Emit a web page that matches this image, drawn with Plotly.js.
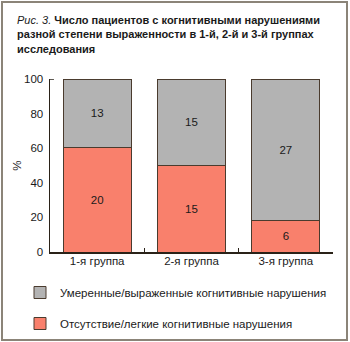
<!DOCTYPE html>
<html><head><meta charset="utf-8">
<script src="https://cdn.plot.ly/plotly-3.0.1.min.js"></script>
<style>
html,body{margin:0;padding:0;background:#fff;}
#wrap{position:relative;width:350px;height:342px;}
#chart{position:absolute;left:0;top:0;width:350px;height:342px;}
#frame{position:absolute;left:1px;top:1px;width:343px;height:336px;border:2px solid #8b8478;pointer-events:none;}
</style></head>
<body><div id="wrap"><div id="chart"></div><div id="frame"></div></div>
<script>
const groups = ["1-я группа", "2-я группа", "3-я группа"];
const absentCounts = [20, 15, 6];
const moderateCounts = [13, 15, 27];
const seriesNames = ["Отсутствие/легкие когнитивные нарушения", "Умеренные/выраженные когнитивные нарушения"];
const yTicks = [0, 20, 40, 60, 80, 100];

const totals = groups.map((g, i) => absentCounts[i] + moderateCounts[i]);
const absentPct = absentCounts.map((v, i) => v / totals[i] * 100);
const moderatePct = moderateCounts.map((v, i) => v / totals[i] * 100);

const font = "Liberation Sans, Arial, sans-serif";
const traces = [
  {type: "bar", x: groups, y: absentPct, name: seriesNames[0], legendgroup: "a", legendrank: 2,
   text: absentCounts.map(String), textposition: "inside", insidetextanchor: "middle",
   textfont: {color: "#1a1a1a", size: 11.5, family: font},
   marker: {color: "#f9806c", line: {color: "#4a3b2e", width: 1}}, hoverinfo: "skip"},
  {type: "bar", x: groups, y: moderatePct, name: seriesNames[1], legendgroup: "b", legendrank: 1,
   text: moderateCounts.map(String), textposition: "inside", insidetextanchor: "middle",
   textfont: {color: "#1a1a1a", size: 11.5, family: font},
   marker: {color: "#b3b3b3", line: {color: "#4a3b2e", width: 1}}, hoverinfo: "skip"}
];

const layout = {
  width: 350, height: 342,
  margin: {l: 50, r: 17, t: 79, b: 90, autoexpand: false},
  paper_bgcolor: "#fff", plot_bgcolor: "#fff",
  barmode: "stack", bargap: 0.28,
  font: {family: font, size: 11.5, color: "#1a1a1a"},
  title: {
    text: "<i>Рис. 3.</i> <b>Число пациентов с когнитивными нарушениями<br>разной степени выраженности в 1-й, 2-й и 3-й группах<br>исследования</b>",
    font: {family: font, size: 11, color: "#1a1a1a"},
    xref: "container", yref: "container", x: 17/350, xanchor: "left", y: 1 - 24/342, yanchor: "top"
  },
  xaxis: {
    showline: true, linecolor: "#2a2218", linewidth: 1.5,
    ticks: "inside", tickson: "boundaries", ticklen: 4, tickcolor: "#2a2218", tickwidth: 1,
    showgrid: false, zeroline: false, tickfont: {size: 11.5}, ticklabelstandoff: -2, fixedrange: true
  },
  yaxis: {
    range: [0, 100], tickvals: yTicks, ticktext: yTicks.map(String),
    showline: true, linecolor: "#2a2218", linewidth: 1.5,
    ticks: "", showgrid: false, zeroline: false, ticklabelstandoff: 3,
    tickfont: {size: 11.5},
    title: {text: "%", font: {size: 11.5}, standoff: 0}, fixedrange: true
  },
  shapes: [
    {type: "line", xref: "paper", yref: "y", x0: 0, x1: 0.014, y0: 100, y1: 100, line: {color: "#2a2218", width: 1.5}}
  ],
  legend: {
    orientation: "v", x: -30/283, xanchor: "left", y: -26/173, yanchor: "top",
    traceorder: "grouped", tracegroupgap: 12,
    font: {size: 11.5, family: font}, bgcolor: "rgba(0,0,0,0)"
  },
  showlegend: true
};
Plotly.newPlot("chart", traces, layout, {displayModeBar: false, staticPlot: true});
</script></body></html>
